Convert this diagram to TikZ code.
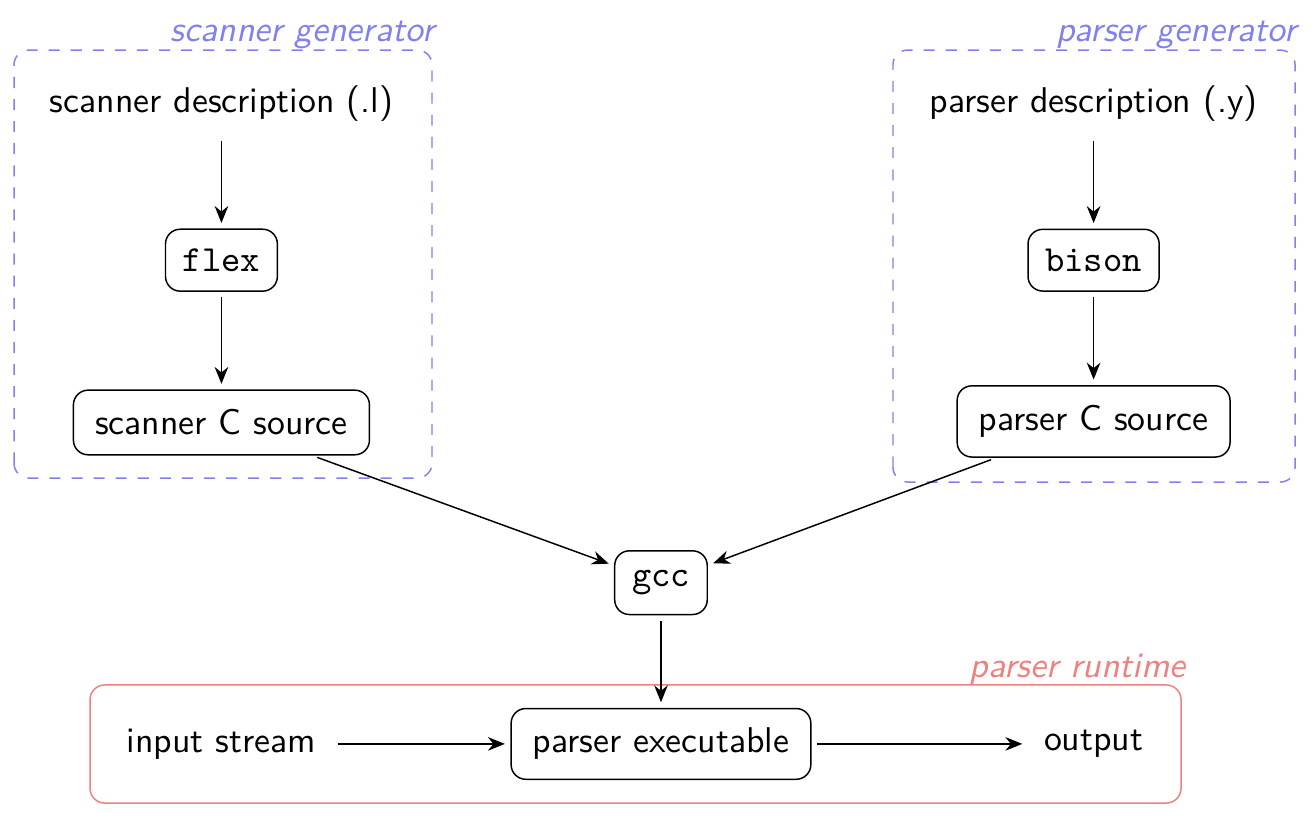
\documentclass[tikz,border=0pt]{standalone}
\definecolor{genblue}{RGB}{128, 128, 240}
\definecolor{runred}{RGB}{240, 128, 128}
\usepackage{tikz}
\usetikzlibrary{arrows.meta, positioning}
\newcommand{\textsans}{\sffamily\fontsize{9.72pt}{11.7pt}\selectfont}
\tikzset{
  filenode/.style={inner xsep=4.2pt, inner ysep=3.6pt, font=\textsans},
  toolnode/.style={draw, rounded corners=4pt, inner xsep=4.7pt, inner ysep=5.3pt},
  sourcenode/.style={toolnode, inner xsep=5.9pt, font=\textsans},
  flow/.style={-{Stealth[length=4.6pt, width=3.7pt]}, shorten <=1.5pt, shorten >=1.5pt},
  grouplabel/.style={anchor=base east, inner sep=0pt, font=\textsans\itshape},
}

\begin{document}
\begin{tikzpicture}
  \useasboundingbox (0, 0) rectangle (12.55, 7.985);

  % Scanner generator
  \draw[genblue, dashed, rounded corners=4pt] (0.134, 3.419) rectangle (4.126, 7.507);
  \node[grouplabel, text=genblue] (scanlabel) at (4.155, 7.593) {scanner generator};
  \node[filenode] (scandesc) at (2.115, 7.0) {scanner description (.l)};
  \node[toolnode] (flex) at (2.115, 5.5) {\ttfamily flex};
  \node[sourcenode] (scansrc) at (2.115, 3.95) {scanner C source};

  % Parser generator
  \draw[genblue, dashed, rounded corners=4pt] (8.529, 3.381) rectangle (12.369, 7.507);
  \node[grouplabel, text=genblue] (parselabel) at (12.39, 7.593) {parser generator};
  \node[filenode] (parsedesc) at (10.445, 7.0) {parser description (.y)};
  \node[toolnode] (bison) at (10.445, 5.5) {\ttfamily bison};
  \node[sourcenode] (parsesrc) at (10.445, 3.96) {parser C source};

  % Compiler
  \node[toolnode] (gcc) at (6.313, 2.42) {\ttfamily gcc};

  % Parser runtime
  \draw[runred, rounded corners=4pt] (0.86, 0.315) rectangle (11.28, 1.443);
  \node[grouplabel, text=runred] (runlabel) at (11.33, 1.519) {parser runtime};
  \node[filenode] (input) at (2.115, 0.88) {input stream};
  \node[sourcenode] (exec) at (6.313, 0.88) {parser executable};
  \node[filenode] (output) at (10.445, 0.88) {output};

  % Connections
  \draw[flow] (scandesc) -- (flex);
  \draw[flow] (flex) -- (scansrc);
  \draw[flow] (parsedesc) -- (bison);
  \draw[flow] (bison) -- (parsesrc);
  \draw[flow] (scansrc) -- (gcc);
  \draw[flow] (parsesrc) -- (gcc);
  \draw[flow] (gcc) -- (exec);
  \draw[flow] (input) -- (exec);
  \draw[flow] (exec) -- (output);
\end{tikzpicture}
\end{document}
